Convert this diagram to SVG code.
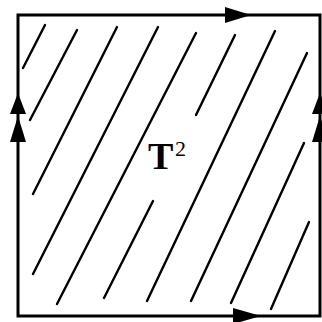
<svg xmlns="http://www.w3.org/2000/svg" width="322" height="322" viewBox="0 0 322 322">
<style>
.edge{fill:none;stroke:#000;stroke-width:3;stroke-linecap:square}
.hatch{fill:none;stroke:#000;stroke-width:2.4;stroke-linecap:round}
.arr{fill:#000;stroke:none}
.lbl{font-family:"Liberation Serif","Times New Roman",serif;fill:#000}
</style>
<rect width="322" height="322" fill="#fff"/>
<g id="square">
<path class="edge" d="M18 15 H320 V316 H18 Z"/>
</g>
<g id="arrows">
<polygon class="arr" points="251,15 225,7 225,23"/>
<polygon class="arr" points="261,316 233,308 233,324"/>
<polygon class="arr" points="18,93 10,114 26,114"/>
<polygon class="arr" points="18,116 10,142 26,142"/>
<polygon class="arr" points="320,93 312,114 328,114"/>
<polygon class="arr" points="320,116 312,142 328,142"/>
</g>
<g id="hatching">
<line class="hatch" x1="45" y1="25" x2="23" y2="68"/>
<line class="hatch" x1="77" y1="30" x2="30" y2="120"/>
<line class="hatch" x1="117" y1="27" x2="33" y2="194"/>
<line class="hatch" x1="158" y1="27" x2="33" y2="274"/>
<line class="hatch" x1="196" y1="33" x2="57" y2="304"/>
<line class="hatch" x1="235" y1="35" x2="196" y2="115"/>
<line class="hatch" x1="153" y1="201" x2="104" y2="298"/>
<line class="hatch" x1="275" y1="31" x2="147" y2="301"/>
<line class="hatch" x1="307" y1="53" x2="191" y2="301"/>
<line class="hatch" x1="304" y1="143" x2="231" y2="303"/>
<line class="hatch" x1="309" y1="222" x2="271" y2="309"/>
</g>
<g id="label">
<text class="lbl" x="148" y="169" font-size="38" font-weight="bold">T</text>
<text class="lbl" x="175" y="156" font-size="22">2</text>
</g>
</svg>
